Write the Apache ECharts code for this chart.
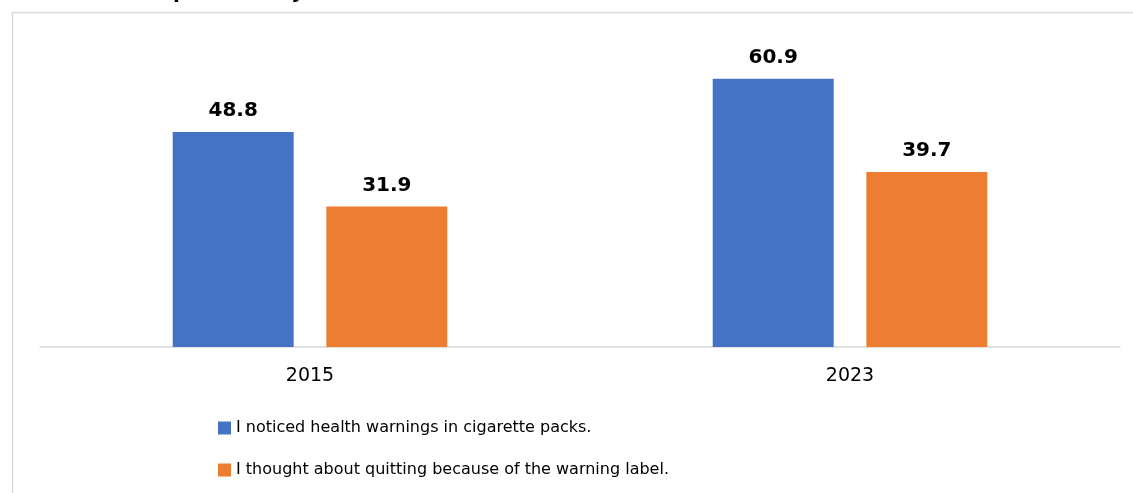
<!DOCTYPE html>
<html>
<head>
<meta charset="utf-8">
<script src="https://cdn.jsdelivr.net/npm/echarts@6/dist/echarts.min.js"></script>
<style>
  html, body { margin: 0; padding: 0; background: #ffffff; }
  #chart { width: 1133px; height: 493px; }
</style>
</head>
<body>
<div id="chart"></div>
<script>
// Survey years on the category axis
const years = ['2015', '2023'];

// Percentages per year for each statement
const noticedWarnings = [48.8, 60.9];
const thoughtQuitting = [31.9, 39.7];

// Legend names
const seriesNames = [
  'I noticed health warnings in cigarette packs.',
  'I thought about quitting because of the warning label.'
];

const chart = echarts.init(document.getElementById('chart'), null, { renderer: 'canvas' });

const regularFont = '"DejaVu Sans", sans-serif';
const boldFont = '"DejaVu Sans", sans-serif';

chart.setOption({
  backgroundColor: '#ffffff',
  animation: false,
  graphic: [
    {
      type: 'text',
      left: 7,
      top: -17,
      style: {
        text: 'Noticed in the past 30 days',
        font: 'bold 20px ' + boldFont,
        fill: '#000000'
      }
    },
    {
      type: 'polyline',
      shape: { points: [[12.5, 493], [12.5, 12.5], [1133, 12.5]] },
      style: { stroke: '#d9d9d9', lineWidth: 1.5, fill: null },
      silent: true
    }
  ],
  grid: { left: 40, right: 13, top: 38.6, bottom: 146, containLabel: false },
  legend: {
    orient: 'vertical',
    left: 213,
    top: 415,
    icon: 'rect',
    itemWidth: 13,
    itemHeight: 13,
    itemGap: 26,
    textStyle: { fontFamily: regularFont, fontSize: 16, color: '#000000' },
    data: seriesNames
  },
  xAxis: {
    type: 'category',
    data: years,
    axisLine: { show: true, lineStyle: { color: '#d9d9d9', width: 1.5 } },
    axisTick: { show: false },
    axisLabel: { fontFamily: regularFont, fontSize: 19, color: '#000000', margin: 20 }
  },
  yAxis: {
    type: 'value',
    min: 0,
    max: 70,
    show: false,
    splitLine: { show: false }
  },
  series: [
    {
      name: seriesNames[0],
      type: 'bar',
      data: noticedWarnings,
      barWidth: '22.4%',
      barGap: '27%',
      itemStyle: { color: '#4472C4' },
      label: {
        show: true,
        position: 'top',
        distance: 11,
        fontFamily: boldFont,
        fontWeight: 'bold',
        fontSize: 20,
        color: '#000000'
      }
    },
    {
      name: seriesNames[1],
      type: 'bar',
      data: thoughtQuitting,
      barWidth: '22.4%',
      barGap: '27%',
      itemStyle: { color: '#ED7D31' },
      label: {
        show: true,
        position: 'top',
        distance: 11,
        fontFamily: boldFont,
        fontWeight: 'bold',
        fontSize: 20,
        color: '#000000'
      }
    }
  ]
});
</script>
</body>
</html>
